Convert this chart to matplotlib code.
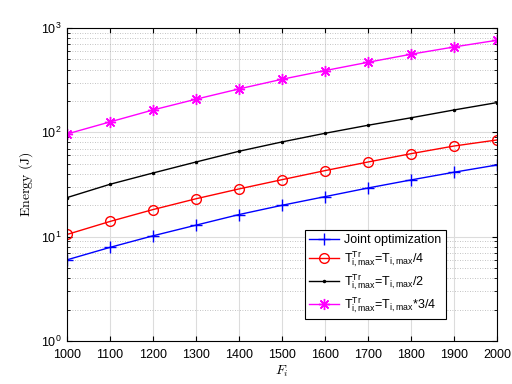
import matplotlib
matplotlib.use("Agg")
import matplotlib.pyplot as plt
from matplotlib.ticker import LogLocator, NullFormatter

plt.rcParams['font.family'] = ['Liberation Sans', 'DejaVu Sans']
plt.rcParams['mathtext.fontset'] = 'custom'
plt.rcParams['mathtext.rm'] = 'Liberation Sans'
plt.rcParams['mathtext.it'] = 'Liberation Sans:italic'
plt.rcParams['mathtext.bf'] = 'Liberation Sans:bold'

F = [1000, 1100, 1200, 1300, 1400, 1500, 1600, 1700, 1800, 1900, 2000]
joint = [6.0, 7.9, 10.2, 12.9, 16.3, 20.0, 24.2, 29.3, 35.0, 41.5, 48.7]
quarter = [10.5, 14.0, 18.2, 23.1, 28.7, 35.2, 43.0, 52.0, 62.5, 74.0, 84.6]
half = [23.7, 31.8, 40.8, 52.0, 65.9, 81.0, 98.0, 117.0, 138.0, 164.0, 193.0]
three_q = [96.5, 126, 164, 208, 261, 323, 391, 470, 561, 659, 764]

labels = ['Joint optimization',
          r'T$^{\rm Tr}_{\rm i,max}$=T$_{\rm i,max}$/4',
          r'T$^{\rm Tr}_{\rm i,max}$=T$_{\rm i,max}$/2',
          r'T$^{\rm Tr}_{\rm i,max}$=T$_{\rm i,max}$*3/4']

fig = plt.figure(figsize=(5.12, 3.84), dpi=100)
ax = fig.add_axes([0.131, 0.112, 0.840, 0.815])

ax.plot(F, joint, color='blue', marker='+', markersize=8, lw=1, label=labels[0])
ax.plot(F, quarter, color='red', marker='o', markersize=7, mfc='none', lw=1, label=labels[1])
ax.plot(F, half, color='black', marker='.', markersize=3, lw=1, label=labels[2])
ax.plot(F, three_q, color='magenta', marker=(8, 2, 0), markersize=8, lw=1, label=labels[3])

ax.set_yscale('log')
ax.set_ylim(1, 1000)
ax.set_xlim(1000, 2000)
ax.set_xticks(F)
ax.yaxis.set_major_locator(LogLocator(base=10, numticks=10))
ax.yaxis.set_minor_locator(LogLocator(base=10, subs=range(2, 10), numticks=20))
ax.yaxis.set_minor_formatter(NullFormatter())

ax.grid(True, which='major', color='#dcdcdc', lw=0.8, ls='-')
ax.grid(True, which='minor', axis='y', color='#b0b0b0', lw=0.6, ls=(0, (1, 2)))
ax.set_axisbelow(True)
ax.tick_params(which='both', direction='in', top=True, right=True, labelsize=9)
ax.tick_params(which='minor', length=2)
ax.tick_params(which='major', length=3.5)
ax.tick_params(axis='x', which='major', pad=6)
ax.tick_params(axis='y', which='major', pad=4)
for s in ax.spines.values():
    s.set_linewidth(0.8)

ax.set_xlabel(r'$F_i$', fontsize=10, math_fontfamily='cm', labelpad=2)
ax.set_ylabel(r'$\mathrm{Energy\ (J)}$', fontsize=10, math_fontfamily='cm')

leg = ax.legend(loc='lower right', bbox_to_anchor=(0.895, 0.05), fontsize=9,
                fancybox=False, edgecolor='black', framealpha=1,
                handlelength=2.4, handletextpad=0.4, borderpad=0.35, labelspacing=0.25)
leg.get_frame().set_linewidth(0.8)

fig.savefig('out.png', dpi=100)
